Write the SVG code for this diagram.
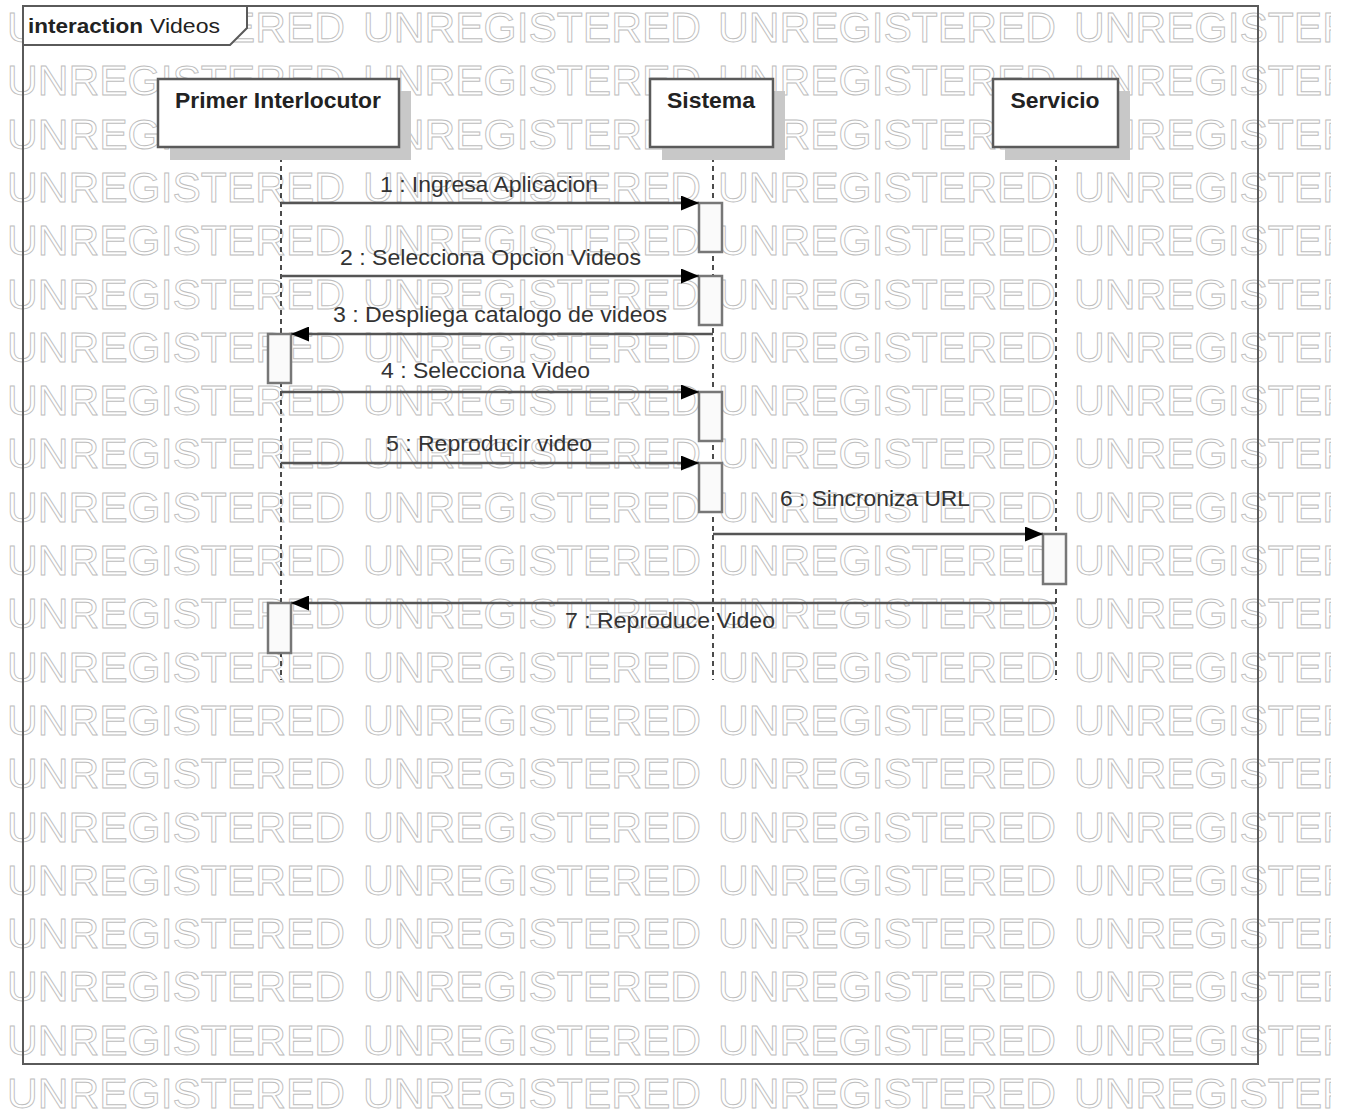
<svg xmlns="http://www.w3.org/2000/svg" width="1346" height="1115" viewBox="0 0 1346 1115">
<defs>
<style>
.wm{font-family:"Liberation Sans",Arial,sans-serif;font-size:42px;fill:#fff;stroke:#bdbdbd;stroke-width:0.9}
.box{fill:#fff;stroke:#5a5a5a;stroke-width:2.5}
.shadow{fill:#c8c8c8}
.title{font-family:"Liberation Sans",Arial,sans-serif;font-size:22.5px;font-weight:bold;fill:#222;text-anchor:middle}
.life{stroke:#111;stroke-width:1.5;stroke-dasharray:5 4;fill:none}
.act{fill:#fafafa;stroke:#777;stroke-width:2.5}
.msg{stroke:#555;stroke-width:2.5;fill:none;marker-end:url(#ah)}
.lbl{font-family:"Liberation Sans",Arial,sans-serif;font-size:22.5px;fill:#333}
.frame{fill:none;stroke:#5a5a5a;stroke-width:2}
</style>
<marker id="ah" viewBox="0 0 18 15" refX="18" refY="7.5" markerWidth="18" markerHeight="15" markerUnits="userSpaceOnUse" orient="auto">
<polygon points="0,0 18,7.5 0,15" fill="#000"/>
</marker>
<clipPath id="wmclip"><rect x="0" y="0" width="1331" height="1115"/></clipPath>
</defs>
<rect x="0" y="0" width="1346" height="1115" fill="#fff"/>
<g id="watermark" class="wm" clip-path="url(#wmclip)">
<text y="42"><tspan x="7" textLength="338" lengthAdjust="spacingAndGlyphs">UNREGISTERED</tspan><tspan x="363" textLength="338" lengthAdjust="spacingAndGlyphs">UNREGISTERED</tspan><tspan x="718" textLength="338" lengthAdjust="spacingAndGlyphs">UNREGISTERED</tspan><tspan x="1074" textLength="338" lengthAdjust="spacingAndGlyphs">UNREGISTERED</tspan></text>
<text y="95.3"><tspan x="7" textLength="338" lengthAdjust="spacingAndGlyphs">UNREGISTERED</tspan><tspan x="363" textLength="338" lengthAdjust="spacingAndGlyphs">UNREGISTERED</tspan><tspan x="718" textLength="338" lengthAdjust="spacingAndGlyphs">UNREGISTERED</tspan><tspan x="1074" textLength="338" lengthAdjust="spacingAndGlyphs">UNREGISTERED</tspan></text>
<text y="148.6"><tspan x="7" textLength="338" lengthAdjust="spacingAndGlyphs">UNREGISTERED</tspan><tspan x="363" textLength="338" lengthAdjust="spacingAndGlyphs">UNREGISTERED</tspan><tspan x="718" textLength="338" lengthAdjust="spacingAndGlyphs">UNREGISTERED</tspan><tspan x="1074" textLength="338" lengthAdjust="spacingAndGlyphs">UNREGISTERED</tspan></text>
<text y="201.9"><tspan x="7" textLength="338" lengthAdjust="spacingAndGlyphs">UNREGISTERED</tspan><tspan x="363" textLength="338" lengthAdjust="spacingAndGlyphs">UNREGISTERED</tspan><tspan x="718" textLength="338" lengthAdjust="spacingAndGlyphs">UNREGISTERED</tspan><tspan x="1074" textLength="338" lengthAdjust="spacingAndGlyphs">UNREGISTERED</tspan></text>
<text y="255.2"><tspan x="7" textLength="338" lengthAdjust="spacingAndGlyphs">UNREGISTERED</tspan><tspan x="363" textLength="338" lengthAdjust="spacingAndGlyphs">UNREGISTERED</tspan><tspan x="718" textLength="338" lengthAdjust="spacingAndGlyphs">UNREGISTERED</tspan><tspan x="1074" textLength="338" lengthAdjust="spacingAndGlyphs">UNREGISTERED</tspan></text>
<text y="308.5"><tspan x="7" textLength="338" lengthAdjust="spacingAndGlyphs">UNREGISTERED</tspan><tspan x="363" textLength="338" lengthAdjust="spacingAndGlyphs">UNREGISTERED</tspan><tspan x="718" textLength="338" lengthAdjust="spacingAndGlyphs">UNREGISTERED</tspan><tspan x="1074" textLength="338" lengthAdjust="spacingAndGlyphs">UNREGISTERED</tspan></text>
<text y="361.8"><tspan x="7" textLength="338" lengthAdjust="spacingAndGlyphs">UNREGISTERED</tspan><tspan x="363" textLength="338" lengthAdjust="spacingAndGlyphs">UNREGISTERED</tspan><tspan x="718" textLength="338" lengthAdjust="spacingAndGlyphs">UNREGISTERED</tspan><tspan x="1074" textLength="338" lengthAdjust="spacingAndGlyphs">UNREGISTERED</tspan></text>
<text y="415.1"><tspan x="7" textLength="338" lengthAdjust="spacingAndGlyphs">UNREGISTERED</tspan><tspan x="363" textLength="338" lengthAdjust="spacingAndGlyphs">UNREGISTERED</tspan><tspan x="718" textLength="338" lengthAdjust="spacingAndGlyphs">UNREGISTERED</tspan><tspan x="1074" textLength="338" lengthAdjust="spacingAndGlyphs">UNREGISTERED</tspan></text>
<text y="468.4"><tspan x="7" textLength="338" lengthAdjust="spacingAndGlyphs">UNREGISTERED</tspan><tspan x="363" textLength="338" lengthAdjust="spacingAndGlyphs">UNREGISTERED</tspan><tspan x="718" textLength="338" lengthAdjust="spacingAndGlyphs">UNREGISTERED</tspan><tspan x="1074" textLength="338" lengthAdjust="spacingAndGlyphs">UNREGISTERED</tspan></text>
<text y="521.7"><tspan x="7" textLength="338" lengthAdjust="spacingAndGlyphs">UNREGISTERED</tspan><tspan x="363" textLength="338" lengthAdjust="spacingAndGlyphs">UNREGISTERED</tspan><tspan x="718" textLength="338" lengthAdjust="spacingAndGlyphs">UNREGISTERED</tspan><tspan x="1074" textLength="338" lengthAdjust="spacingAndGlyphs">UNREGISTERED</tspan></text>
<text y="575"><tspan x="7" textLength="338" lengthAdjust="spacingAndGlyphs">UNREGISTERED</tspan><tspan x="363" textLength="338" lengthAdjust="spacingAndGlyphs">UNREGISTERED</tspan><tspan x="718" textLength="338" lengthAdjust="spacingAndGlyphs">UNREGISTERED</tspan><tspan x="1074" textLength="338" lengthAdjust="spacingAndGlyphs">UNREGISTERED</tspan></text>
<text y="628.3"><tspan x="7" textLength="338" lengthAdjust="spacingAndGlyphs">UNREGISTERED</tspan><tspan x="363" textLength="338" lengthAdjust="spacingAndGlyphs">UNREGISTERED</tspan><tspan x="718" textLength="338" lengthAdjust="spacingAndGlyphs">UNREGISTERED</tspan><tspan x="1074" textLength="338" lengthAdjust="spacingAndGlyphs">UNREGISTERED</tspan></text>
<text y="681.6"><tspan x="7" textLength="338" lengthAdjust="spacingAndGlyphs">UNREGISTERED</tspan><tspan x="363" textLength="338" lengthAdjust="spacingAndGlyphs">UNREGISTERED</tspan><tspan x="718" textLength="338" lengthAdjust="spacingAndGlyphs">UNREGISTERED</tspan><tspan x="1074" textLength="338" lengthAdjust="spacingAndGlyphs">UNREGISTERED</tspan></text>
<text y="734.9"><tspan x="7" textLength="338" lengthAdjust="spacingAndGlyphs">UNREGISTERED</tspan><tspan x="363" textLength="338" lengthAdjust="spacingAndGlyphs">UNREGISTERED</tspan><tspan x="718" textLength="338" lengthAdjust="spacingAndGlyphs">UNREGISTERED</tspan><tspan x="1074" textLength="338" lengthAdjust="spacingAndGlyphs">UNREGISTERED</tspan></text>
<text y="788.2"><tspan x="7" textLength="338" lengthAdjust="spacingAndGlyphs">UNREGISTERED</tspan><tspan x="363" textLength="338" lengthAdjust="spacingAndGlyphs">UNREGISTERED</tspan><tspan x="718" textLength="338" lengthAdjust="spacingAndGlyphs">UNREGISTERED</tspan><tspan x="1074" textLength="338" lengthAdjust="spacingAndGlyphs">UNREGISTERED</tspan></text>
<text y="841.5"><tspan x="7" textLength="338" lengthAdjust="spacingAndGlyphs">UNREGISTERED</tspan><tspan x="363" textLength="338" lengthAdjust="spacingAndGlyphs">UNREGISTERED</tspan><tspan x="718" textLength="338" lengthAdjust="spacingAndGlyphs">UNREGISTERED</tspan><tspan x="1074" textLength="338" lengthAdjust="spacingAndGlyphs">UNREGISTERED</tspan></text>
<text y="894.8"><tspan x="7" textLength="338" lengthAdjust="spacingAndGlyphs">UNREGISTERED</tspan><tspan x="363" textLength="338" lengthAdjust="spacingAndGlyphs">UNREGISTERED</tspan><tspan x="718" textLength="338" lengthAdjust="spacingAndGlyphs">UNREGISTERED</tspan><tspan x="1074" textLength="338" lengthAdjust="spacingAndGlyphs">UNREGISTERED</tspan></text>
<text y="948.1"><tspan x="7" textLength="338" lengthAdjust="spacingAndGlyphs">UNREGISTERED</tspan><tspan x="363" textLength="338" lengthAdjust="spacingAndGlyphs">UNREGISTERED</tspan><tspan x="718" textLength="338" lengthAdjust="spacingAndGlyphs">UNREGISTERED</tspan><tspan x="1074" textLength="338" lengthAdjust="spacingAndGlyphs">UNREGISTERED</tspan></text>
<text y="1001.4"><tspan x="7" textLength="338" lengthAdjust="spacingAndGlyphs">UNREGISTERED</tspan><tspan x="363" textLength="338" lengthAdjust="spacingAndGlyphs">UNREGISTERED</tspan><tspan x="718" textLength="338" lengthAdjust="spacingAndGlyphs">UNREGISTERED</tspan><tspan x="1074" textLength="338" lengthAdjust="spacingAndGlyphs">UNREGISTERED</tspan></text>
<text y="1054.7"><tspan x="7" textLength="338" lengthAdjust="spacingAndGlyphs">UNREGISTERED</tspan><tspan x="363" textLength="338" lengthAdjust="spacingAndGlyphs">UNREGISTERED</tspan><tspan x="718" textLength="338" lengthAdjust="spacingAndGlyphs">UNREGISTERED</tspan><tspan x="1074" textLength="338" lengthAdjust="spacingAndGlyphs">UNREGISTERED</tspan></text>
<text y="1108"><tspan x="7" textLength="338" lengthAdjust="spacingAndGlyphs">UNREGISTERED</tspan><tspan x="363" textLength="338" lengthAdjust="spacingAndGlyphs">UNREGISTERED</tspan><tspan x="718" textLength="338" lengthAdjust="spacingAndGlyphs">UNREGISTERED</tspan><tspan x="1074" textLength="338" lengthAdjust="spacingAndGlyphs">UNREGISTERED</tspan></text>
</g>
<g id="frame">
<rect class="frame" x="23" y="6" width="1235" height="1058"/>
<polygon points="23,6 247,6 247,28 230,45 23,45" fill="#fff" stroke="#5a5a5a" stroke-width="2"/>
<text x="28" y="33" font-family="Liberation Sans, Arial, sans-serif" font-size="21" fill="#222"><tspan font-weight="bold" textLength="115" lengthAdjust="spacingAndGlyphs">interaction</tspan><tspan x="150" textLength="70" lengthAdjust="spacingAndGlyphs">Videos</tspan></text>
</g>
<g id="lifelines">
<line class="life" x1="281" y1="148" x2="281" y2="680"/>
<line class="life" x1="713" y1="148" x2="713" y2="680"/>
<line class="life" x1="1056" y1="148" x2="1056" y2="680"/>
</g>
<g id="node-primer">
<rect class="shadow" x="170" y="91" width="241" height="69"/>
<rect class="box" x="158" y="79" width="241" height="68"/>
<text class="title" x="278" y="108" textLength="206" lengthAdjust="spacingAndGlyphs">Primer Interlocutor</text>
</g>
<g id="node-sistema">
<rect class="shadow" x="662" y="91" width="123" height="69"/>
<rect class="box" x="650" y="79" width="123" height="68"/>
<text class="title" x="711" y="108" textLength="88" lengthAdjust="spacingAndGlyphs">Sistema</text>
</g>
<g id="node-servicio">
<rect class="shadow" x="1005" y="91" width="125" height="69"/>
<rect class="box" x="993" y="79" width="125" height="68"/>
<text class="title" x="1055" y="108" textLength="89" lengthAdjust="spacingAndGlyphs">Servicio</text>
</g>
<g id="activations">
<rect class="act" x="699" y="203" width="23" height="49"/>
<rect class="act" x="699" y="276" width="23" height="49"/>
<rect class="act" x="268" y="334" width="23" height="49"/>
<rect class="act" x="699" y="392" width="23" height="49"/>
<rect class="act" x="699" y="463" width="23" height="49"/>
<rect class="act" x="1043" y="534" width="23" height="50"/>
<rect class="act" x="268" y="603" width="23" height="50"/>
</g>
<g id="connectors">
<line class="msg" x1="281" y1="203" x2="699" y2="203"/>
<line class="msg" x1="281" y1="276" x2="699" y2="276"/>
<line class="msg" x1="713" y1="334" x2="291" y2="334"/>
<line class="msg" x1="281" y1="392" x2="699" y2="392"/>
<line class="msg" x1="281" y1="463" x2="699" y2="463"/>
<line class="msg" x1="713" y1="534" x2="1043" y2="534"/>
<line class="msg" x1="1056" y1="603" x2="291" y2="603"/>
</g>
<g id="labels">
<text class="lbl" x="380" y="192" textLength="218" lengthAdjust="spacingAndGlyphs">1 : Ingresa Aplicacion</text>
<text class="lbl" x="340" y="265" textLength="301" lengthAdjust="spacingAndGlyphs">2 : Selecciona Opcion Videos</text>
<text class="lbl" x="333" y="322" textLength="334" lengthAdjust="spacingAndGlyphs">3 : Despliega catalogo de videos</text>
<text class="lbl" x="381" y="378" textLength="209" lengthAdjust="spacingAndGlyphs">4 : Selecciona Video</text>
<text class="lbl" x="386" y="451" textLength="206" lengthAdjust="spacingAndGlyphs">5 : Reproducir video</text>
<text class="lbl" x="780" y="506" textLength="190" lengthAdjust="spacingAndGlyphs">6 : Sincroniza URL</text>
<text class="lbl" x="565" y="628" textLength="210" lengthAdjust="spacingAndGlyphs">7 : Reproduce Video</text>
</g>
</svg>
